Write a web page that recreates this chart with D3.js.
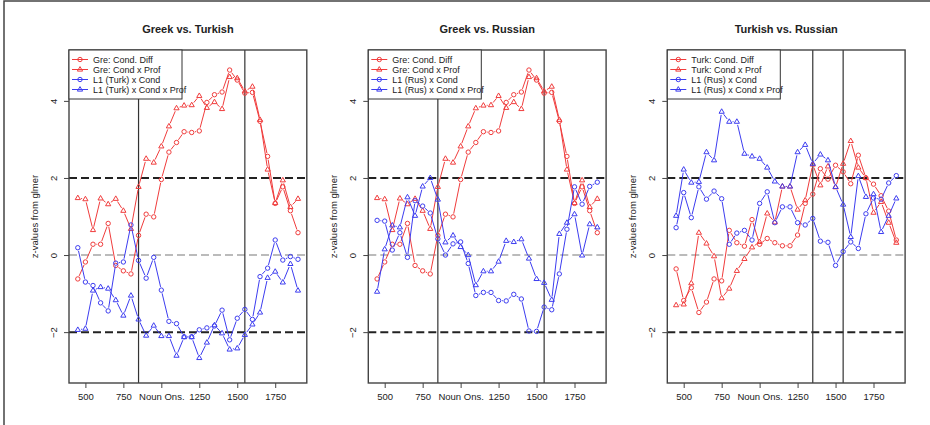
<!DOCTYPE html>
<html>
<head>
<meta charset="utf-8">
<script src="https://cdn.jsdelivr.net/npm/d3@7"></script>
<style>
  body { margin: 0; background: #fff; }
  svg text { font-family: "Liberation Sans", Arial, sans-serif; fill: #222; }
</style>
</head>
<body>
<div class="container"></div>
<script>
const w = 930;
const h = 425;

// time windows (ms after onset)
const onsets = [450, 500, 550, 600, 650, 700, 750, 800, 850, 900, 950, 1000, 1050, 1100, 1150,
  1200, 1250, 1300, 1350, 1400, 1450, 1500, 1550, 1600, 1650, 1700, 1750, 1800, 1850, 1900];
const tickValues = [500, 750, 1000, 1250, 1500, 1750];
const tickLabels = ["500", "750", "Noun Ons.", "1250", "1500", "1750"];
const yTicks = [-2, 0, 2, 4];

// Greek vs. Turkish
const greCondDiff = [-0.62, -0.18, 0.28, 0.28, 0.82, -0.27, -0.41, -0.49, 0.51, 1.06, 0.99, 1.96, 2.67, 2.92, 3.20,
  3.18, 3.22, 3.96, 4.16, 4.23, 4.80, 4.54, 4.20, 4.22, 3.47, 2.56, 1.34, 1.77, 1.15, 0.58];
const greCondProf = [1.48, 1.45, 0.65, 1.47, 1.32, 1.46, 1.15, 0.68, 1.77, 2.50, 2.40, 2.82, 3.34, 3.81, 3.88,
  3.89, 4.13, 3.82, 3.97, 3.79, 4.62, 4.59, 4.25, 4.37, 3.51, 2.22, 1.35, 1.94, 1.25, 1.46];
const turkL1Cond = [0.19, -0.70, -0.79, -1.24, -1.45, -0.21, -0.18, 0.78, -0.14, -0.60, -0.06, -0.91, -1.72, -1.78, -2.12,
  -2.12, -1.94, -1.89, -1.84, -1.43, -2.20, -1.64, -1.41, -1.67, -0.56, -0.34, 0.39, -0.13, -0.04, -0.11];
const turkL1CondProf = [-1.94, -1.91, -0.92, -0.83, -0.87, -1.17, -1.57, -1.05, -1.67, -2.09, -1.83, -2.10, -2.10, -2.61, -2.13,
  -2.13, -2.67, -2.27, -1.82, -2.03, -2.45, -2.42, -2.07, -1.80, -1.49, -0.59, -0.43, -0.71, -0.23, -0.92];

// Greek vs. Russian
const rusL1CondGr = [0.90, 0.88, 0.13, 0.58, -0.06, 1.41, 1.27, 1.09, 0.42, 0.00, 0.29, 0.34, -0.22, -1.05, -0.97,
  -0.97, -1.18, -1.19, -1.02, -1.14, -1.97, -1.98, -1.35, -1.42, -0.49, 0.67, 1.77, 1.32, 1.78, 1.89];
const rusL1CondProfGr = [-0.95, 0.15, 0.77, 0.72, 1.50, 1.02, 1.78, 2.00, 1.44, 0.33, 0.51, 0.21, 0.00, -0.78, -0.42,
  -0.42, -0.17, 0.37, 0.34, 0.41, -0.09, -0.62, -0.72, -1.16, 0.55, 0.84, 1.06, -0.01, 0.80, 0.72];

// Turkish vs. Russian
const turkCondDiff = [-0.36, -1.18, -0.85, -1.49, -1.22, -0.62, -0.67, 0.64, 0.32, 0.23, 0.92, 0.28, 0.43, 0.32, 0.24,
  0.24, 0.52, 1.34, 1.58, 2.24, 1.97, 2.33, 2.16, 1.85, 2.59, 2.00, 1.84, 1.54, 1.14, 0.39];
const turkCondProf = [-1.30, -1.28, -0.73, 0.58, 0.30, -0.03, -1.12, -0.87, -0.41, -0.10, 0.20, 0.34, 1.08, 0.85, 1.78,
  1.78, 1.18, 1.42, 2.35, 1.81, 2.30, 1.76, 2.37, 2.96, 2.27, 2.00, 1.10, 1.38, 0.84, 0.32];
const rusL1CondTr = [0.71, 1.62, 0.97, 1.77, 1.45, 1.66, 1.46, 0.28, 0.57, 0.64, 0.39, 1.34, 1.64, 0.84, 1.25,
  1.25, 0.84, 0.78, 0.95, 0.36, 0.33, -0.27, 0.09, 0.34, 0.17, 1.07, 1.48, 1.45, 1.87, 2.06];
const rusL1CondProfTr = [1.02, 2.22, 1.88, 1.90, 2.67, 2.46, 3.72, 3.46, 3.46, 2.63, 2.56, 2.50, 2.27, 1.91, 1.78,
  1.78, 2.67, 2.86, 2.37, 2.61, 2.46, 1.77, 1.31, 0.47, 2.05, 1.51, 1.58, 0.60, 1.02, 1.47];

const titles = ["Greek vs. Turkish", "Greek vs. Russian", "Turkish vs. Russian"];
const legendLabels = [
  ["Gre: Cond. Diff", "Gre: Cond x Prof", "L1 (Turk) x Cond", "L1 (Turk) x Cond x Prof"],
  ["Gre: Cond. Diff", "Gre: Cond x Prof", "L1 (Rus) x Cond", "L1 (Rus) x Cond x Prof"],
  ["Turk: Cond. Diff", "Turk: Cond x Prof", "L1 (Rus) x Cond", "L1 (Rus) x Cond x Prof"]
];
const panelSeries = [
  [greCondDiff, greCondProf, turkL1Cond, turkL1CondProf],
  [greCondDiff, greCondProf, rusL1CondGr, rusL1CondProfGr],
  [turkCondDiff, turkCondProf, rusL1CondTr, rusL1CondProfTr]
];
const panelVLines = [[850, 1550], [850, 1550], [1350, 1550]];

const red = "#f03c3c";
const blue = "#3c3cf0";
const styles = [
  {color: red, shape: "circle", dash: null},
  {color: red, shape: "triangle", dash: null},
  {color: blue, shape: "circle", dash: null},
  {color: blue, shape: "triangle", dash: null}
];

const plotLefts = [69, 368.3, 667.3];
const plotW = 237.8;
const plotTop = 50;
const plotBottom = 383;

const svg = d3.select('.container').append('svg')
  .attr('width', w)
  .attr('height', h);

svg.append('rect').attr('width', w).attr('height', h).attr('fill', '#fff');
// outer frame
svg.append('rect')
  .attr('x', 4).attr('y', 1)
  .attr('width', w + 10).attr('height', h + 10)
  .attr('fill', 'none').attr('stroke', '#444').attr('stroke-width', 1.5);

const y = d3.scaleLinear().domain([-3.32, 5.32]).range([plotBottom, plotTop]);

function drawSymbol(g, shape, cx, cy, color) {
  if (shape === "circle") {
    g.append('circle').attr('cx', cx).attr('cy', cy).attr('r', 2.2)
      .attr('fill', 'none').attr('stroke', color).attr('stroke-width', 1);
  } else {
    g.append('path')
      .attr('d', `M${cx},${cy - 2.9}L${cx + 2.6},${cy + 1.6}L${cx - 2.6},${cy + 1.6}Z`)
      .attr('fill', 'none').attr('stroke', color).attr('stroke-width', 1);
  }
}

panelSeries.forEach((series, p) => {
  const left = plotLefts[p];
  const x = d3.scaleLinear().domain([392, 1958]).range([left, left + plotW]);
  const g = svg.append('g');
  const clipId = 'clip' + p;
  svg.append('clipPath').attr('id', clipId).append('rect')
    .attr('x', left).attr('y', plotTop).attr('width', plotW).attr('height', plotBottom - plotTop);
  const inner = g.append('g').attr('clip-path', `url(#${clipId})`);

  // reference lines
  [[2, '#222'], [-2, '#222'], [0, '#bbb']].forEach(([v, c]) => {
    inner.append('line')
      .attr('x1', left).attr('x2', left + plotW)
      .attr('y1', y(v)).attr('y2', y(v))
      .attr('stroke', c).attr('stroke-width', 2).attr('stroke-dasharray', '8,4');
  });
  panelVLines[p].forEach(v => {
    inner.append('line')
      .attr('x1', x(v)).attr('x2', x(v))
      .attr('y1', plotTop).attr('y2', plotBottom)
      .attr('stroke', '#333').attr('stroke-width', 1.2);
  });

  // series, drawn like R type = "b"
  series.forEach((vals, s) => {
    const st = styles[s];
    const pts = vals.map((v, i) => [x(onsets[i]), y(v)]);
    const gap = 3.3;
    for (let i = 0; i < pts.length - 1; i++) {
      const [x0, y0] = pts[i], [x1, y1] = pts[i + 1];
      const d = Math.hypot(x1 - x0, y1 - y0);
      if (d <= 2 * gap) continue;
      const ux = (x1 - x0) / d, uy = (y1 - y0) / d;
      inner.append('line')
        .attr('x1', x0 + ux * gap).attr('y1', y0 + uy * gap)
        .attr('x2', x1 - ux * gap).attr('y2', y1 - uy * gap)
        .attr('stroke', st.color).attr('stroke-width', 1);
    }
    pts.forEach(([cx, cy]) => drawSymbol(inner, st.shape, cx, cy, st.color));
  });

  // box
  g.append('rect')
    .attr('x', left).attr('y', plotTop).attr('width', plotW).attr('height', plotBottom - plotTop)
    .attr('fill', 'none').attr('stroke', '#444').attr('stroke-width', 1.4);

  // x axis
  const xAxis = d3.axisBottom(x)
    .tickValues(tickValues)
    .tickFormat((d, i) => tickLabels[i])
    .tickSize(5).tickPadding(5);
  const ax = g.append('g').attr('transform', `translate(0,${plotBottom})`).call(xAxis);
  ax.select('.domain').remove();
  ax.selectAll('line').attr('stroke', '#444');
  ax.selectAll('text').style('font-size', '9.5px').attr('fill', '#222')
    .style('font-family', '"Liberation Sans", Arial, sans-serif');

  // y axis
  const yAxis = d3.axisLeft(y).tickValues(yTicks).tickFormat(d3.format('d')).tickSize(5).tickPadding(0);
  const ay = g.append('g').attr('transform', `translate(${left},0)`).call(yAxis);
  ay.select('.domain').remove();
  ay.selectAll('line').attr('stroke', '#444');
  ay.selectAll('text')
    .style('font-size', '9.5px').attr('fill', '#222')
    .style('font-family', '"Liberation Sans", Arial, sans-serif')
    .attr('text-anchor', 'middle').attr('dy', null).attr('x', 0)
    .attr('transform', 'translate(-12,0) rotate(-90)');

  // y label
  g.append('text')
    .attr('transform', `translate(${left - 31},${(plotTop + plotBottom) / 2}) rotate(-90)`)
    .attr('text-anchor', 'middle')
    .style('font-size', '9.5px')
    .text('z-values from glmer');

  // title
  g.append('text')
    .attr('x', left + plotW / 2).attr('y', 33)
    .attr('text-anchor', 'middle')
    .style('font-size', '11px').style('font-weight', 'bold')
    .text(titles[p]);

  // legend
  const lg = g.append('g').attr('transform', `translate(${left},${plotTop})`);
  lg.append('rect').attr('width', 113).attr('height', 49)
    .attr('fill', '#fff').attr('stroke', '#333').attr('stroke-width', 1);
  legendLabels[p].forEach((lab, i) => {
    const ly = 9.5 + i * 10;
    const st = styles[i];
    lg.append('line').attr('x1', 3).attr('x2', 19).attr('y1', ly).attr('y2', ly)
      .attr('stroke', st.color).attr('stroke-width', 1);
    drawSymbol(lg, st.shape, 11, ly, st.color);
    lg.append('text').attr('x', 24).attr('y', ly + 3.3)
      .style('font-size', '9px').text(lab);
  });
});
</script>
</body>
</html>
